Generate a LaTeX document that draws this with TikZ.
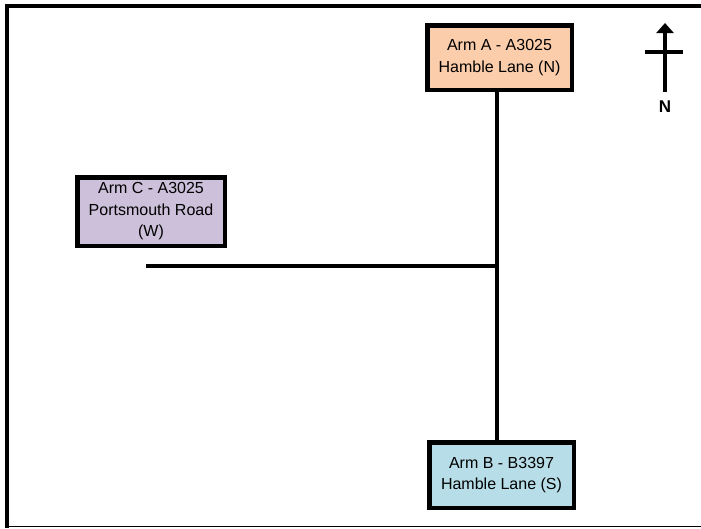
\documentclass[tikz,border=0pt]{standalone}
\usepackage{fontspec}
\setmainfont{Liberation Sans}
\usetikzlibrary{arrows.meta}
\definecolor{armA}{HTML}{FBCDAB}
\definecolor{armB}{HTML}{B7DEE8}
\definecolor{armC}{HTML}{CCC0DA}
\begin{document}
\begin{tikzpicture}[x=1pt,y=-1pt,
  armbox/.style={draw=black, line width=4.5pt, align=center, inner sep=0pt,
    font=\fontsize{16}{21.5}\selectfont},
  road/.style={line width=3.2pt}]
\useasboundingbox (0,0) rectangle (701,528);
% frame
\draw[line width=4pt] (7,528) -- (7,6) -- (701,6);
\draw[line width=1.5pt] (5,526.5) -- (701,526.5);
% boxes
\node[armbox, fill=armA, minimum width=144.5pt, minimum height=64.5pt] (A) at (499.5,57.5) {Arm A - A3025\\Hamble Lane (N)};
\node[armbox, fill=armC, minimum width=147.5pt, minimum height=68.5pt] (C) at (151,211.5) {Arm C - A3025\\Portsmouth Road\\(W)};
\node[armbox, fill=armB, minimum width=144.5pt, minimum height=65.5pt] (B) at (501.5,475) {Arm B - B3397\\Hamble Lane (S)};
% roads
\coordinate (J) at (497,266);
\coordinate (Wend) at (146,266);
\draw[road] (A.south -| J) -- (B.north -| J);
\draw[road] (Wend) -- (J);
% north arrow
\coordinate (Nbot) at (665,92);
\coordinate (Ntop) at (665,23);
\coordinate (Cl) at (645,52);
\coordinate (Cr) at (683,52);
\draw[line width=3.2pt, -{Triangle[length=10pt,width=17pt]}] (Nbot) -- (Ntop);
\draw[line width=3.2pt] (Cl) -- (Cr);
\node[font=\fontsize{17}{19}\selectfont\bfseries] (N) at (665,107) {N};
\end{tikzpicture}
\end{document}
